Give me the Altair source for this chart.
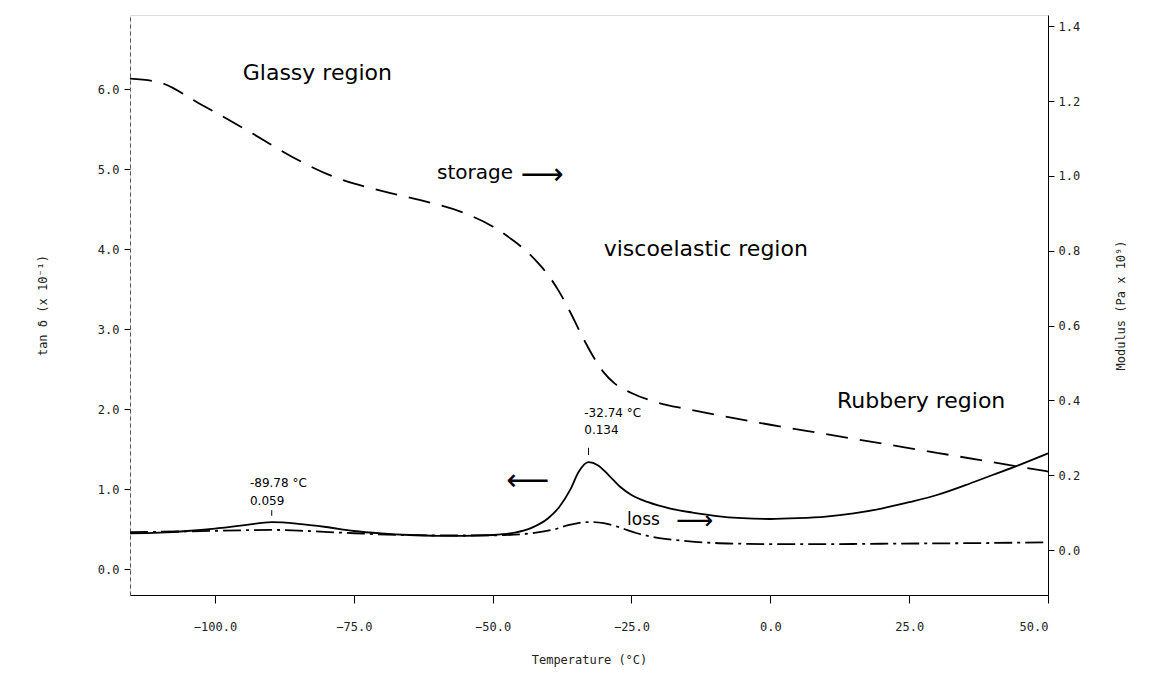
import altair as alt
import pandas as pd

# ---- data ----
tan_T = [-115.3, -110, -105, -100, -95, -89.78, -85, -80, -75, -70, -65, -60, -55, -50, -46, -43,
         -40, -38, -36, -34.5, -32.74, -31, -29, -27, -25, -22, -18, -14, -10, -5, 0, 5, 10, 15,
         20, 25, 30, 35, 40, 45, 50]
tan_v = [0.45, 0.46, 0.48, 0.51, 0.55, 0.59, 0.57, 0.53, 0.48, 0.45, 0.43, 0.42, 0.42, 0.43, 0.46, 0.52,
         0.64, 0.78, 1.00, 1.22, 1.34, 1.30, 1.17, 1.03, 0.93, 0.84, 0.76, 0.71, 0.67, 0.64, 0.63, 0.64, 0.66, 0.70,
         0.76, 0.84, 0.93, 1.05, 1.18, 1.31, 1.45]

sto_T = [-115.3, -110, -103, -94, -86, -79, -70, -63, -55, -50, -47, -44, -42, -40, -38, -36, -34,
         -32, -30, -28, -25, -20, -15, -10, 0, 10, 20, 30, 40, 50]
sto_v = [1.26, 1.25, 1.195, 1.12, 1.05, 1.0, 0.96, 0.935, 0.90, 0.865, 0.835, 0.80, 0.77, 0.735, 0.69, 0.635,
         0.575, 0.52, 0.475, 0.445, 0.42, 0.393, 0.377, 0.362, 0.335, 0.31, 0.285, 0.26, 0.235, 0.21]

loss_T = [-115.3, -105, -95, -90, -85, -75, -65, -55, -48, -43, -39, -36, -33, -30, -27, -24, -20, -15,
          -10, -5, 0, 10, 20, 30, 40, 50]
loss_v = [0.048, 0.050, 0.053, 0.054, 0.052, 0.045, 0.040, 0.039, 0.040, 0.045, 0.055, 0.068, 0.075, 0.072,
          0.060, 0.045, 0.032, 0.024, 0.019, 0.017, 0.016, 0.016, 0.017, 0.018, 0.019, 0.021]

# peak markers (small vertical ticks above the two tan δ peaks)
peak_T = [-89.78, -32.74]
peak_lo = [0.67, 1.43]
peak_hi = [0.74, 1.52]

note_text = ["Glassy region", "storage", "⟶", "viscoelastic region", "Rubbery region", "⟵", "loss", "⟶",
             "-89.78 °C", "0.059", "-32.74 °C", "0.134"]
note_T = [-95, -60, -45, -30, 12, -47.5, -25.8, -17, -93.7, -93.7, -33.5, -33.5]
note_v = [6.2, 4.95, 4.93, 4.0, 2.11, 1.11, 0.62, 0.60, 1.075, 0.86, 1.95, 1.74]
note_size = [22, 20, 30, 22, 22, 30, 17, 26, 12, 12, 12, 12]

x_ticks = [-100, -75, -50, -25, 0, 25, 50]
left_ticks = [0, 1, 2, 3, 4, 5, 6]
right_ticks = [0.0, 0.2, 0.4, 0.6, 0.8, 1.0, 1.2, 1.4]

# ---- tables ----
df_tan = pd.DataFrame({"T": tan_T, "v": tan_v})
df_right = pd.concat([
    pd.DataFrame({"T": sto_T, "v": sto_v, "series": "storage"}),
    pd.DataFrame({"T": loss_T, "v": loss_v, "series": "loss"}),
])
df_note = pd.DataFrame({"T": note_T, "v": note_v, "text": note_text, "size": note_size})
df_peak = pd.DataFrame({"T": peak_T, "lo": peak_lo, "hi": peak_hi})

FONT = "DejaVu Sans Mono"
xscale = alt.Scale(domain=[-115.3, 50], nice=False, zero=False)
lscale = alt.Scale(domain=[-0.32, 6.93], nice=False, zero=False)
rscale = alt.Scale(domain=[-0.12, 1.43], nice=False, zero=False)

xaxis = alt.Axis(values=x_ticks, format=".1f", title="Temperature (°C)", grid=False,
                 labelFont=FONT, labelFontSize=12, titleFont=FONT, titleFontSize=12,
                 titleFontWeight="normal", tickSize=8, labelPadding=18, titlePadding=22,
                 domainColor="black", tickColor="black", labelColor="#222", titleColor="#222")

tan = alt.Chart(df_tan).mark_line(color="black", strokeWidth=1.8, interpolate="monotone").encode(
    x=alt.X("T:Q", scale=xscale, axis=xaxis),
    y=alt.Y("v:Q", scale=lscale,
            axis=alt.Axis(values=left_ticks, format=".1f", title="tan δ (x 10⁻¹)", grid=False,
                          labelFont=FONT, labelFontSize=12, titleFont=FONT, titleFontSize=12,
                          titleFontWeight="normal", tickSize=6, labelPadding=5, titlePadding=48,
                          domainColor="#555", domainDash=[4, 3], tickColor="black",
                          labelColor="#222", titleColor="#222")),
)

peaks = alt.Chart(df_peak).mark_rule(color="black", strokeWidth=1).encode(
    x=alt.X("T:Q", scale=xscale),
    y=alt.Y("lo:Q", scale=lscale, axis=None),
    y2="hi:Q",
)

notes = alt.Chart(df_note).mark_text(font="DejaVu Sans", align="left", baseline="middle",
                                       color="black").encode(
    x=alt.X("T:Q", scale=xscale),
    y=alt.Y("v:Q", scale=lscale, axis=None),
    text="text:N",
    size=alt.Size("size:Q", scale=None, legend=None),
)

right = alt.Chart(df_right).mark_line(color="black", strokeWidth=1.8, interpolate="monotone").encode(
    x=alt.X("T:Q", scale=xscale),
    y=alt.Y("v:Q", scale=rscale,
            axis=alt.Axis(orient="right", values=right_ticks, format=".1f",
                          title="Modulus (Pa x 10⁹)", grid=False, titleAngle=270,
                          labelFont=FONT, labelFontSize=12, titleFont=FONT, titleFontSize=12,
                          titleFontWeight="normal", tickSize=6, labelPadding=4, titlePadding=48,
                          domainColor="black", tickColor="black",
                          labelColor="#222", titleColor="#222")),
    strokeDash=alt.StrokeDash("series:N",
                              scale=alt.Scale(domain=["storage", "loss"],
                                              range=[[22, 12], [18, 5, 3, 5]]),
                              legend=None),
    detail="series:N",
)

chart = alt.layer(tan, right, notes, peaks).resolve_scale(y="independent").properties(
    width=918, height=580,
    autosize=alt.AutoSizeParams(type="none"),
    padding={"left": 130, "top": 15, "right": 105, "bottom": 78},
).configure_view(stroke="black", strokeWidth=1.5).configure(background="white")

chart.save("out.html", embed_options={"renderer": "svg", "actions": False})
